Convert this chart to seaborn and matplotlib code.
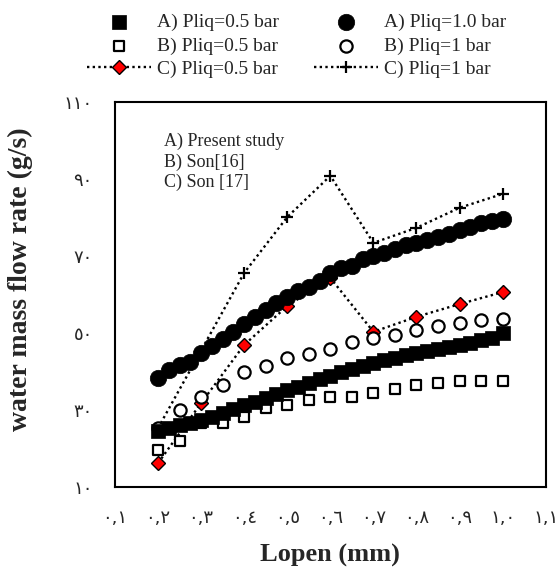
import matplotlib
matplotlib.use("Agg")
import matplotlib.pyplot as plt
import seaborn as sns
import pandas as pd

# ---------------- data ----------------
x_A = [0.2, 0.225, 0.25, 0.275, 0.3, 0.325, 0.35, 0.375, 0.4, 0.425, 0.45,
       0.475, 0.5, 0.525, 0.55, 0.575, 0.6, 0.625, 0.65, 0.675, 0.7, 0.725,
       0.75, 0.775, 0.8, 0.825, 0.85, 0.875, 0.9, 0.925, 0.95, 0.975, 1.0]
A_p05 = [24.6, 25.3, 26.0, 26.7, 27.5, 28.3, 29.2, 30.2, 31.2, 32.1, 33.1,
         34.1, 35.1, 36.0, 37.0, 38.0, 38.9, 39.8, 40.7, 41.5, 42.3, 43.0,
         43.6, 44.2, 44.8, 45.3, 45.8, 46.3, 46.9, 47.5, 48.1, 48.8, 50.0]
A_p10 = [38.3, 40.4, 41.7, 42.5, 44.8, 46.6, 48.4, 50.3, 52.3, 54.2, 56.0,
         57.8, 59.4, 60.9, 61.9, 63.5, 65.6, 66.9, 67.4, 69.2, 70.0, 70.8,
         71.8, 72.9, 73.4, 74.2, 74.9, 75.7, 76.8, 77.5, 78.6, 79.1, 79.6]

x_B = [0.2, 0.25, 0.3, 0.35, 0.4, 0.45, 0.5, 0.55, 0.6, 0.65, 0.7, 0.75,
       0.8, 0.85, 0.9, 0.95, 1.0]
B_p05 = [19.6, 22.0, 26.6, 26.6, 28.2, 30.5, 31.3, 32.6, 33.4, 33.4, 34.4,
         35.5, 36.5, 37.0, 37.5, 37.5, 37.5]
B_p1 = [25.3, 30.0, 33.4, 36.5, 39.9, 41.4, 43.5, 44.5, 45.8, 47.7, 48.7,
        49.5, 50.8, 51.8, 52.6, 53.4, 53.6]

x_C05 = [0.2, 0.3, 0.4, 0.5, 0.6, 0.7, 0.8, 0.9, 1.0]
C_p05 = [16.2, 31.8, 46.9, 57.0, 64.3, 50.3, 54.2, 57.5, 60.6]
x_C1 = [0.2, 0.4, 0.5, 0.6, 0.7, 0.8, 0.9, 1.0]
C_p1 = [25.3, 65.6, 80.1, 90.8, 73.4, 77.3, 82.5, 86.1]

x_ticks = [0.1, 0.2, 0.3, 0.4, 0.5, 0.6, 0.7, 0.8, 0.9, 1.0, 1.1]
x_tick_labels = ["٠,١", "٠,٢", "٠,٣", "٠,٤", "٠,٥", "٠,٦", "٠,٧", "٠,٨", "٠,٩", "١,٠", "١,١"]
y_ticks = [10, 30, 50, 70, 90, 110]
y_tick_labels = ["١٠", "٣٠", "٥٠", "٧٠", "٩٠", "١١٠"]

# ---------------- style ----------------
sns.set_style("white")
plt.rcParams['font.family'] = ['Liberation Serif', 'DejaVu Sans']

fig = plt.figure(figsize=(5.58, 5.69), dpi=100)
ax = fig.add_axes([0.206, 0.144, 0.772, 0.677])

dot = (0, (1, 1.4))

# C series (drawn first, behind)
sns.lineplot(x=x_C05, y=C_p05, ax=ax, estimator=None, sort=False,
             color="black", linestyle=dot, linewidth=1.7,
             marker="D", markersize=7, markerfacecolor="red",
             markeredgecolor="black", markeredgewidth=1.0,
             label="C) Pliq=0.5 bar", zorder=2)
sns.lineplot(x=x_C1, y=C_p1, ax=ax, estimator=None, sort=False,
             color="black", linestyle=dot, linewidth=1.7,
             marker="+", markersize=9, markeredgewidth=1.6,
             markeredgecolor="black",
             label="C) Pliq=1 bar", zorder=2)

# B series
sns.scatterplot(x=x_B, y=B_p05, ax=ax, marker="s", s=62,
                facecolor="white", edgecolor="black", linewidth=1.6,
                label="B) Pliq=0.5 bar", zorder=3)
sns.scatterplot(x=x_B, y=B_p1, ax=ax, marker="o", s=78,
                facecolor="white", edgecolor="black", linewidth=1.6,
                label="B) Pliq=1 bar", zorder=3)

# A series
sns.scatterplot(x=x_A, y=A_p05, ax=ax, marker="s", s=115,
                color="black", edgecolor="black", linewidth=0.5,
                label="A) Pliq=0.5 bar", zorder=4)
sns.scatterplot(x=x_A, y=A_p10, ax=ax, marker="o", s=140,
                color="black", edgecolor="black", linewidth=0.5,
                label="A) Pliq=1.0 bar", zorder=4)

ax.set_xlim(0.1, 1.1)
ax.set_ylim(10, 110)
ax.set_xticks(x_ticks)
ax.set_xticklabels(x_tick_labels, fontsize=13, family=['DejaVu Sans'])
ax.set_yticks(y_ticks)
ax.set_yticklabels(y_tick_labels, fontsize=13, family=['DejaVu Sans'])
ax.tick_params(axis="both", length=0, pad=16)

for sp in ax.spines.values():
    sp.set_visible(True)
    sp.set_color("black")
    sp.set_linewidth(1.5)

ax.set_xlabel("Lopen (mm)", fontsize=19, fontweight="bold", labelpad=12)
ax.set_ylabel("water mass flow rate (g/s)", fontsize=20, fontweight="bold")
ax.yaxis.set_label_coords(-0.19, 0.54)

ax.text(0.115, 0.92, "A) Present study\nB) Son[16]\nC) Son [17]",
        transform=ax.transAxes, ha="left", va="top", fontsize=13,
        linespacing=1.25)

handles, labels = ax.get_legend_handles_labels()
order = ["A) Pliq=0.5 bar", "B) Pliq=0.5 bar", "C) Pliq=0.5 bar",
         "A) Pliq=1.0 bar", "B) Pliq=1 bar", "C) Pliq=1 bar"]
hmap = dict(zip(labels, handles))
if ax.get_legend() is not None:
    ax.get_legend().remove()
fig.legend([hmap[l] for l in order], order, loc="upper center",
           bbox_to_anchor=(0.532, 1.0), ncol=2, frameon=False, fontsize=14,
           handlelength=3.3, handletextpad=0.3, columnspacing=1.8,
           labelspacing=0.3, borderaxespad=0.3)

fig.savefig("out.png", dpi=100)
